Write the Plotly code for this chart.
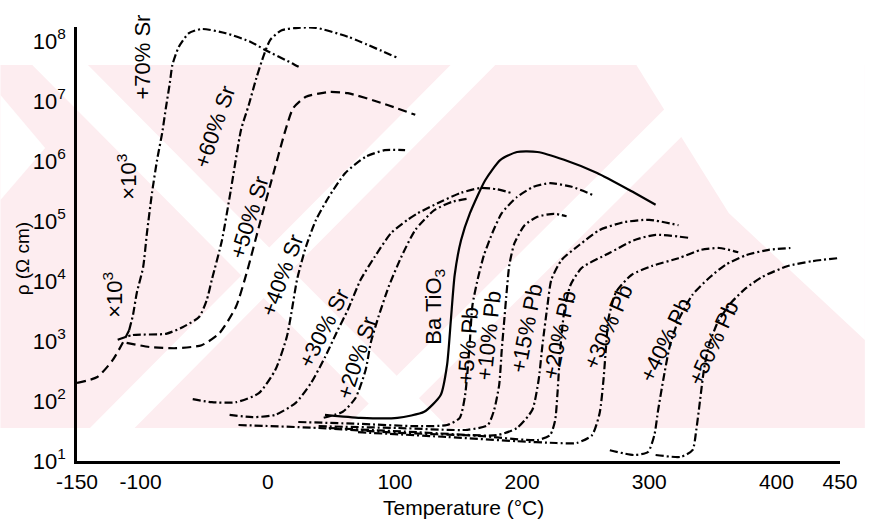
import plotly.graph_objects as go
import numpy as np

# ---- data: temperature (degC) and log10(resistivity / ohm cm) ----
sr70_low_T = [-150, -134, -122, -114, -109]
sr70_low_lg = [2.30, 2.40, 2.68, 2.97, 3.18]
sr70_T = [-109, -106, -103, -98, -95, -91, -87, -83, -80, -77, -75, -70, -62, -52, -33, -13, -2, 19, 26]
sr70_lg = [3.18, 3.43, 3.80, 4.23, 4.80, 5.47, 6.02, 6.47, 6.90, 7.30, 7.60, 7.90, 8.13, 8.20, 8.13, 7.98, 7.85, 7.63, 7.55]

sr60_T = [-118, -106, -80, -67, -54, -48, -44, -36, -29, -21, -15, -9, -3, 2, 11, 24, 38, 63, 102]
sr60_lg = [3.02, 3.10, 3.12, 3.23, 3.40, 3.68, 4.02, 4.68, 5.52, 6.52, 6.93, 7.38, 7.77, 8.02, 8.18, 8.22, 8.22, 8.07, 7.72]

sr50_T = [-111, -93, -72, -52, -38, -25, -16, -7, 3, 14, 20, 30, 48, 63, 89, 116]
sr50_lg = [2.97, 2.90, 2.88, 2.93, 3.13, 3.57, 4.18, 4.90, 5.68, 6.52, 6.88, 7.07, 7.15, 7.13, 6.97, 6.77]

sr40_T = [-59, -44, -25, -7, 6, 15, 19, 23, 30, 38, 48, 61, 77, 92, 108]
sr40_lg = [2.03, 1.98, 1.98, 2.13, 2.52, 3.07, 3.52, 4.02, 4.57, 5.02, 5.40, 5.80, 6.07, 6.18, 6.18]

sr30_T = [-30, -12, 6, 22, 34, 45, 55, 63, 73, 84, 97, 110, 118, 136, 152, 167, 180, 191]
sr30_lg = [1.77, 1.73, 1.77, 1.97, 2.30, 2.73, 3.18, 3.52, 4.02, 4.40, 4.80, 5.02, 5.13, 5.32, 5.47, 5.55, 5.53, 5.47]

sr20_T = [44, 59, 69, 77, 81, 87, 95, 105, 116, 131, 145, 157]
sr20_lg = [1.72, 1.82, 2.05, 2.52, 2.97, 3.40, 3.90, 4.40, 4.85, 5.18, 5.32, 5.37]

bt_T = [45, 73, 102, 123, 136, 141, 144, 147, 152, 159, 171, 183, 196, 212, 233, 259, 284, 305]
bt_lg = [1.77, 1.72, 1.72, 1.82, 2.10, 2.60, 3.35, 4.10, 4.68, 5.13, 5.68, 6.02, 6.15, 6.15, 6.02, 5.80, 5.52, 5.27]

pb5_T = [24, 71, 118, 141, 151, 155, 157, 159, 161, 165, 170, 177, 184, 196, 209, 222, 239, 256]
pb5_lg = [1.65, 1.62, 1.58, 1.60, 1.72, 2.07, 2.47, 3.02, 3.60, 4.02, 4.43, 4.82, 5.13, 5.40, 5.57, 5.63, 5.57, 5.43]

pb10_T = [40, 102, 157, 173, 178, 182, 184, 186, 188, 190, 194, 202, 212, 225, 235]
pb10_lg = [1.58, 1.55, 1.52, 1.60, 1.85, 2.27, 2.85, 3.35, 3.85, 4.27, 4.63, 4.93, 5.07, 5.12, 5.08]

pb15_T = [48, 118, 180, 196, 208, 213, 216, 220, 223, 231, 245, 261, 280, 300, 323]
pb15_lg = [1.55, 1.48, 1.43, 1.55, 1.85, 2.35, 2.93, 3.60, 4.02, 4.35, 4.60, 4.85, 4.98, 5.02, 4.93]

pb20_T = [-23, 40, 102, 165, 212, 222, 226, 228, 230, 233, 238, 247, 269, 288, 305, 331]
pb20_lg = [1.60, 1.55, 1.47, 1.42, 1.35, 1.43, 1.68, 2.18, 2.85, 3.47, 3.93, 4.22, 4.47, 4.68, 4.77, 4.72]

pb30_T = [71, 141, 196, 227, 243, 255, 261, 264, 266, 268, 274, 286, 302, 323, 341, 355, 370]
pb30_lg = [1.48, 1.40, 1.33, 1.30, 1.30, 1.43, 1.80, 2.35, 2.90, 3.38, 3.82, 4.10, 4.25, 4.38, 4.52, 4.55, 4.48]

pb40_T = [269, 288, 299, 304, 307, 311, 316, 323, 334, 347, 360, 376, 394, 411]
pb40_lg = [1.18, 1.10, 1.15, 1.43, 1.85, 2.35, 2.90, 3.35, 3.77, 4.05, 4.27, 4.43, 4.52, 4.55]

pb50_T = [305, 325, 334, 337, 340, 343, 347, 354, 364, 376, 389, 409, 428, 448]
pb50_lg = [1.10, 1.07, 1.18, 1.52, 2.02, 2.52, 2.93, 3.32, 3.63, 3.88, 4.07, 4.25, 4.33, 4.38]

x_tickvals = [-150, -100, 0, 100, 200, 300, 400, 450]
x_ticktext = ["-150", "-100", "0", "100", "200", "300", "400", "450"]
y_exponents = [1, 2, 3, 4, 5, 6, 7, 8]

# ---- styling ----
FONT = "Liberation Sans, Arial, Helvetica, sans-serif"
DASHDOT = "8px,3px,2px,3px"
DASHED = "9px,5px"

# plot area in page pixels
L, R, T, B = 77, 845, 27, 461
W, H = 870, 531


def px(xp):
    return (xp - L) / (R - L)


def py(yp):
    return (B - yp) / (B - T)


curves = [
    (sr70_low_T, sr70_low_lg, DASHED),
    (sr70_T, sr70_lg, DASHDOT),
    (sr60_T, sr60_lg, DASHDOT),
    (sr50_T, sr50_lg, DASHED),
    (sr40_T, sr40_lg, DASHDOT),
    (sr30_T, sr30_lg, DASHDOT),
    (sr20_T, sr20_lg, DASHDOT),
    (bt_T, bt_lg, "solid"),
    (pb5_T, pb5_lg, DASHDOT),
    (pb10_T, pb10_lg, DASHDOT),
    (pb15_T, pb15_lg, DASHDOT),
    (pb20_T, pb20_lg, DASHDOT),
    (pb30_T, pb30_lg, DASHDOT),
    (pb40_T, pb40_lg, DASHDOT),
    (pb50_T, pb50_lg, DASHDOT),
]

fig = go.Figure()
for tx, lg, dash in curves:
    fig.add_trace(go.Scatter(
        x=tx, y=10 ** np.array(lg), mode="lines",
        line=dict(color="black", width=2.2, dash=dash, shape="spline", smoothing=0.6),
        showlegend=False, hoverinfo="skip"))

# ---- background watermark (pale pink pattern) ----
PINK = "#fdedf0"


def poly(points, color):
    d = "M " + " L ".join(f"{px(a):.4f},{py(b):.4f}" for a, b in points) + " Z"
    return dict(type="path", path=d, xref="paper", yref="paper",
                fillcolor=color, line=dict(width=0), layer="below")


shapes = [
    poly([(0, 65), (870, 65), (870, 428), (0, 428)], PINK),
    poly([(32, 65), (88, 65), (451, 428), (395, 428)], "white"),
    poly([(90, 428), (135, 428), (498, 65), (453, 65)], "white"),
    poly([(346, 428), (391, 428), (758, 65), (713, 65)], "white"),
    poly([(640, 65), (870, 65), (870, 340), (733, 213)], "white"),
    poly([(0, 95), (45, 148), (0, 200)], "white"),
]

# ---- labels ----
LBL = 22
labels = [
    ("+70% Sr", 142, 57, -90),
    ("×10<sup>3</sup>", 127, 177, -90),
    ("×10<sup>3</sup>", 113, 295, -90),
    ("+60% Sr", 215, 127, -71),
    ("+50% Sr", 250, 217, -73),
    ("+40% Sr", 283, 275, -70),
    ("+30% Sr", 325, 328, -63),
    ("+20% Sr", 358, 358, -72),
    ("Ba TiO<sub>3</sub>", 437, 307, -90),
    ("+5% Pb", 470, 345, -86),
    ("+10% Pb", 491, 335, -84),
    ("+15% Pb", 529, 328, -79),
    ("+20% Pb", 562, 335, -78),
    ("+30% Pb", 611, 327, -66),
    ("+40% Pb", 670, 340, -64),
    ("+50% Pb", 717, 343, -65),
]
annotations = []
for text, xa, ya, ang in labels:
    annotations.append(dict(text=text, x=px(xa), y=py(ya), xref="paper", yref="paper",
                            xanchor="center", yanchor="middle", textangle=ang,
                            showarrow=False, font=dict(family=FONT, size=LBL, color="black")))

annotations.append(dict(text="Temperature (°C)", x=px(466), y=py(507), xref="paper", yref="paper",
                        xanchor="center", yanchor="middle", showarrow=False,
                        font=dict(family=FONT, size=21, color="black")))
annotations.append(dict(text="ρ (Ω cm)", x=px(22), y=py(258), xref="paper", yref="paper",
                        xanchor="center", yanchor="middle", textangle=-90, showarrow=False,
                        font=dict(family=FONT, size=19, color="black")))

fig.update_layout(
    width=W, height=H,
    margin=dict(l=L, r=W - R, t=T, b=H - B),
    paper_bgcolor="white", plot_bgcolor="rgba(0,0,0,0)",
    shapes=shapes, annotations=annotations,
    font=dict(family=FONT, color="black"),
)
fig.update_xaxes(
    range=[-150, 450], tickvals=x_tickvals, ticktext=x_ticktext,
    showline=True, linecolor="black", linewidth=2.5, showgrid=False, zeroline=False,
    ticks="", tickfont=dict(size=21, family=FONT, color="black"), ticklabelstandoff=0,
)
fig.update_yaxes(
    type="log", range=[1, 1 + (B - T) / 60.0],
    tickvals=[10 ** e for e in y_exponents],
    ticktext=[f"10<sup>{e}</sup>" for e in y_exponents],
    showline=True, linecolor="black", linewidth=2.5, showgrid=False, zeroline=False,
    ticks="", tickfont=dict(size=22, family=FONT, color="black"), ticklabelstandoff=4,
)

fig.write_html("out.html")
